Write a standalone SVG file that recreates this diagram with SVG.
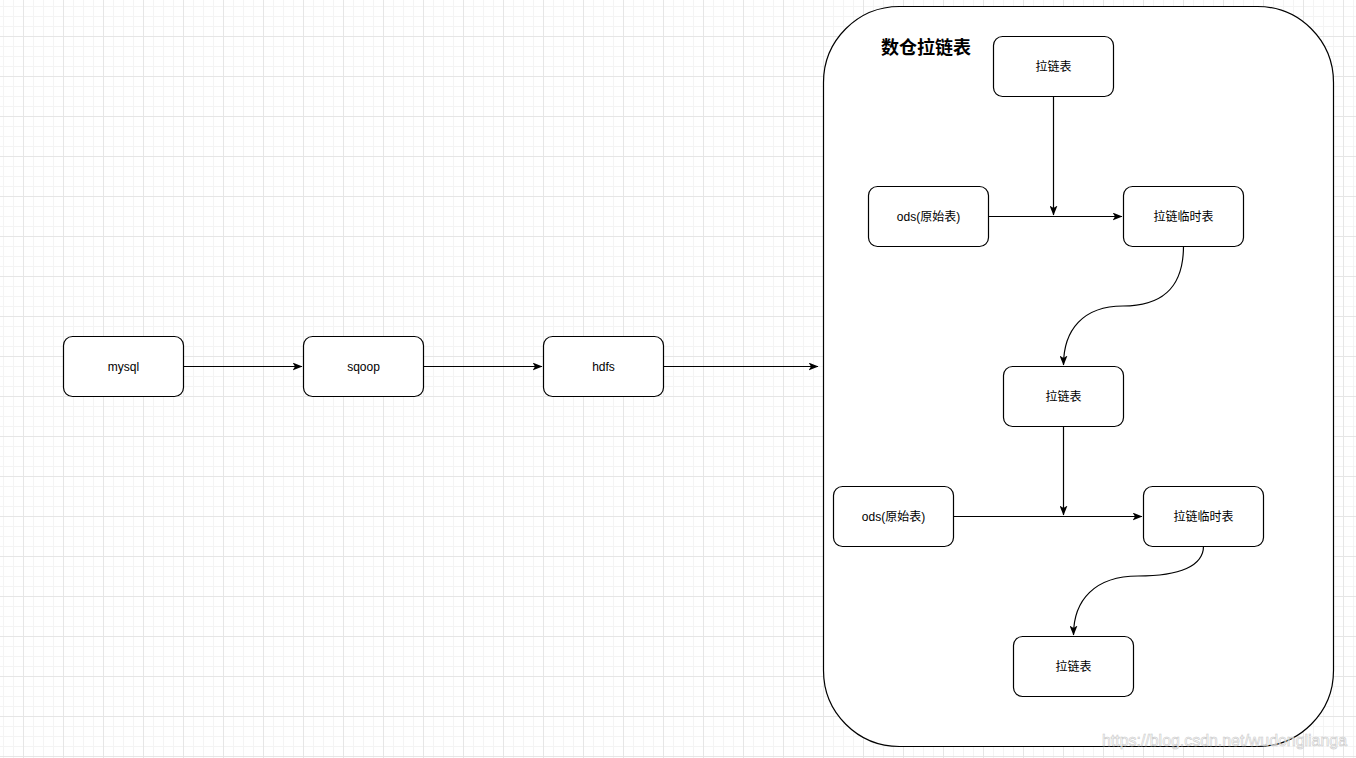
<svg xmlns="http://www.w3.org/2000/svg" width="1356" height="758" viewBox="0 0 1356 758">
<style>
.node rect{fill:#fff;stroke:#000;stroke-width:1.2}
.node text{font-family:"Liberation Sans","Noto Sans CJK SC",sans-serif;font-size:12px;fill:#000;text-anchor:middle;dominant-baseline:central}
.edge{fill:none;stroke:#000;stroke-width:1.2}
</style>
<defs>
<pattern id="minor" width="10" height="10" patternUnits="userSpaceOnUse" x="3" y="6">
<path d="M0 0.5H10M0.5 0V10" fill="none" stroke="#f4f4f4" stroke-width="1"/>
</pattern>
<pattern id="major" width="40" height="40" patternUnits="userSpaceOnUse" x="23" y="36">
<path d="M0 0.5H40M0.5 0V40" fill="none" stroke="#e6e6e6" stroke-width="1"/>
</pattern>
<marker id="arr" markerWidth="10" markerHeight="8" refX="9.5" refY="4" orient="auto" markerUnits="userSpaceOnUse">
<path d="M0,0 L10,4 L0,8 L2.5,4 Z" fill="#000"/>
</marker>
</defs>
<rect width="1356" height="758" fill="#fff"/>
<rect width="1356" height="758" fill="url(#minor)"/>
<rect width="1356" height="758" fill="url(#major)"/>

<g id="container">
<rect x="823.5" y="6.5" width="510" height="740" rx="76" ry="76" fill="#fff" stroke="#000" stroke-width="1.2"/>
<text x="926" y="48" font-family="Liberation Sans,'Noto Sans CJK SC',sans-serif" font-size="18" font-weight="bold" text-anchor="middle" dominant-baseline="central">数仓拉链表</text>
</g>

<g id="connectors">
<path class="edge" d="M183 366.5H302" marker-end="url(#arr)"/>
<path class="edge" d="M423 366.5H542" marker-end="url(#arr)"/>
<path class="edge" d="M663 366.5H818" marker-end="url(#arr)"/>
<path class="edge" d="M1053.5 96V215" marker-end="url(#arr)"/>
<path class="edge" d="M988 216.5H1122" marker-end="url(#arr)"/>
<path class="edge" d="M1183.5 246C1183.5 290 1160 306 1123 306C1083 306 1063.5 330 1063.5 365" marker-end="url(#arr)"/>
<path class="edge" d="M1063.5 426V515" marker-end="url(#arr)"/>
<path class="edge" d="M953 516.5H1142" marker-end="url(#arr)"/>
<path class="edge" d="M1203.5 546C1203.5 566 1180 576 1138 576C1095 576 1073.5 600 1073.5 635" marker-end="url(#arr)"/>
</g>

<g id="mysql" class="node"><rect x="63.5" y="336.5" width="120" height="60" rx="9"/><text x="123.5" y="366.5">mysql</text></g>
<g id="sqoop" class="node"><rect x="303.5" y="336.5" width="120" height="60" rx="9"/><text x="363.5" y="366.5">sqoop</text></g>
<g id="hdfs" class="node"><rect x="543.5" y="336.5" width="120" height="60" rx="9"/><text x="603.5" y="366.5">hdfs</text></g>
<g id="zip1" class="node"><rect x="993.5" y="36.5" width="120" height="60" rx="9"/><text x="1053.5" y="66.5">拉链表</text></g>
<g id="ods1" class="node"><rect x="868.5" y="186.5" width="120" height="60" rx="9"/><text x="928.5" y="216.5">ods(原始表)</text></g>
<g id="tmp1" class="node"><rect x="1123.5" y="186.5" width="120" height="60" rx="9"/><text x="1183.5" y="216.5">拉链临时表</text></g>
<g id="zip2" class="node"><rect x="1003.5" y="366.5" width="120" height="60" rx="9"/><text x="1063.5" y="396.5">拉链表</text></g>
<g id="ods2" class="node"><rect x="833.5" y="486.5" width="120" height="60" rx="9"/><text x="893.5" y="516.5">ods(原始表)</text></g>
<g id="tmp2" class="node"><rect x="1143.5" y="486.5" width="120" height="60" rx="9"/><text x="1203.5" y="516.5">拉链临时表</text></g>
<g id="zip3" class="node"><rect x="1013.5" y="636.5" width="120" height="60" rx="9"/><text x="1073.5" y="666.5">拉链表</text></g>

<text x="1102" y="746" font-family="Liberation Sans,sans-serif" font-size="17" fill="#fff" fill-opacity="0.6" stroke="#c8c8c8" stroke-width="0.6" textLength="245" lengthAdjust="spacingAndGlyphs">https://blog.csdn.net/wudonglianga</text>
</svg>
